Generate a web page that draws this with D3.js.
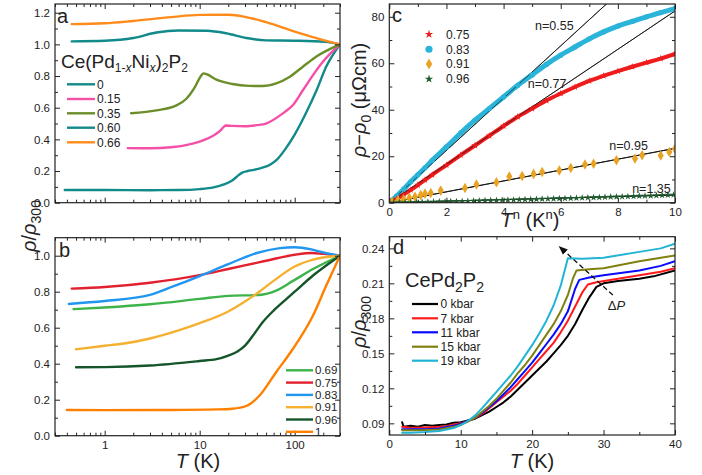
<!DOCTYPE html>
<meta charset="utf-8">
<style>
  body { margin: 0; background: #fff; }
  text { font-family: "Liberation Sans", Arial, sans-serif; fill: #222; }
</style>
<svg width="702" height="475"></svg>
<script src="https://d3js.org/d3.v7.min.js"></script>
<script>
// ---- panel a : Ce(Pd1-xNix)2P2, rho/rho300 vs T (log) ----
var aLabels = ["0", "0.15", "0.35", "0.60", "0.66"]
var aColors = ["#138a8a", "#f54fa8", "#6b8e2a", "#138a8a", "#ff8c1a"]
var a0  = [[0.38,0.08],[1,0.08],[3,0.079],[6,0.08],[10,0.086],[14,0.097],[18,0.115],[22,0.14],[25,0.168],[28,0.19],[32,0.2],[37,0.207],[45,0.22],[55,0.24],[65,0.272],[80,0.34],[100,0.43],[130,0.56],[170,0.71],[215,0.86],[300,1.0]]
var a15 = [[1.75,0.345],[3,0.344],[5,0.35],[8,0.37],[11,0.395],[14,0.425],[16.5,0.455],[18,0.48],[18.8,0.488],[22,0.485],[30,0.483],[40,0.49],[50,0.5],[75,0.564],[96,0.617],[122,0.71],[156,0.806],[198,0.89],[300,1.0]]
var a35 = [[1.9,0.565],[3.5,0.583],[5.7,0.615],[7.2,0.655],[8.9,0.73],[10.3,0.8],[11,0.817],[12,0.81],[15,0.777],[22,0.75],[33,0.738],[46,0.737],[64,0.754],[89,0.796],[122,0.859],[168,0.922],[300,1.0]]
var a60 = [[0.45,1.019],[1,1.023],[2,1.04],[3.5,1.075],[6,1.088],[12,1.086],[19,1.07],[31,1.04],[50,1.025],[100,1.023],[210,1.016],[300,1.0]]
var a66 = [[0.45,1.128],[1,1.133],[2,1.148],[5,1.172],[10,1.186],[20,1.187],[35,1.165],[50,1.14],[100,1.08],[200,1.027],[300,1.0]]
var aSeries = [a0, a15, a35, a60, a66]

// ---- panel b ----
var bLabels = ["0.69", "0.75", "0.83", "0.91", "0.96", "1"]
var bColors = ["#3cb44a", "#e2202e", "#2196f0", "#f5b030", "#14552a", "#ff8000"]
var b69 = [[0.47,0.703],[1,0.712],[3,0.73],[10,0.76],[20,0.777],[42,0.782],[64,0.806],[96,0.86],[156,0.926],[300,1.0]]
var b75 = [[0.45,0.817],[1,0.826],[3,0.85],[10,0.892],[20,0.926],[50,0.972],[100,1.005],[150,1.015],[200,1.01],[300,1.0]]
var b83 = [[0.42,0.732],[1,0.748],[3,0.782],[5,0.825],[10,0.887],[20,0.953],[40,1.015],[70,1.042],[100,1.047],[150,1.035],[200,1.018],[300,1.0]]
var b91 = [[0.5,0.48],[1,0.5],[1.6,0.512],[3,0.54],[6,0.585],[10,0.625],[20,0.69],[30,0.745],[40,0.79],[60,0.86],[100,0.94],[160,0.98],[300,1.0]]
var b96 = [[0.5,0.38],[1,0.381],[3,0.39],[10,0.415],[15,0.425],[20,0.445],[25,0.468],[30,0.5],[38,0.57],[46,0.63],[60,0.695],[80,0.755],[100,0.8],[156,0.89],[300,1.0]]
var b1  = [[0.4,0.143],[1,0.142],[5,0.143],[15,0.146],[22,0.15],[31,0.165],[43,0.225],[64,0.354],[96,0.483],[156,0.668],[215,0.834],[300,1.0]]
var bSeries = [b69, b75, b83, b91, b96, b1]

// ---- panel c : rho - rho0 vs T^n ----
var cLabels = ["0.75", "0.83", "0.91", "0.96"]
var cColors = ["#ee1c1c", "#2ab4da", "#e8a323", "#1e5e2c"]
var c75 = [[0.1,0.6],[0.25,1.6],[0.5,3.5],[0.75,5.5],[1,7.6],[1.25,9.8],[1.5,12],[2,16.2],[2.5,20.5],[3,24.6],[3.5,28.8],[4,33],[4.5,37],[5,40.5],[5.5,44],[6,47],[6.5,49.8],[7,52.4],[7.5,54.6],[8,56.6],[8.5,58.5],[9,60.3],[9.5,62],[10,64]]
var c83 = [[0.05,0.5],[0.25,2.8],[0.5,5.8],[0.75,9],[1,12],[1.25,15],[1.5,18.2],[2,24],[2.5,30],[3,35.5],[3.5,40.5],[4,45.5],[4.5,50.5],[5,55],[5.5,59.5],[6,63.5],[6.5,67],[7,70.5],[7.5,73.5],[8,76],[8.5,78],[9,80],[9.5,81.8],[10,83.5]]
var c91 = [[0.1,0.4],[0.3,0.9],[0.5,1.4],[0.7,2],[0.9,2.6],[1.1,3.3],[1.25,3.9],[1.45,4.2],[1.8,5.2],[2.65,6.3],[3.05,7.8],[3.75,8.8],[4.2,11.3],[4.65,11.5],[5.05,12.4],[5.35,13.2],[5.95,13.9],[6.35,14.9],[6.85,16.4],[7.15,16.8],[7.95,18.3],[8.6,19],[8.85,20.4],[9.5,20.3],[9.8,21.8],[10,23.2]]
var c96 = [[0.15,0.05],[0.35,0.1],[0.55,0.12],[0.75,0.15],[0.95,0.2],[1.15,0.25],[1.35,0.3],[1.55,0.35],[1.75,0.4],[1.95,0.45],[2.15,0.5],[2.35,0.55],[2.55,0.6],[2.75,0.7],[2.95,0.75],[3.15,0.8],[3.35,0.95],[3.55,1.0],[3.75,1.0],[3.95,1.1],[4.15,1.15],[4.35,1.2],[4.55,1.3],[4.75,1.4],[4.95,1.45],[5.15,1.5],[5.35,1.6],[5.55,1.65],[5.75,1.7],[5.95,1.8],[6.15,1.85],[6.35,1.9],[6.55,2.0],[6.75,2.1],[6.95,2.2],[7.15,2.25],[7.35,2.3],[7.55,2.4],[7.75,2.5],[7.95,2.55],[8.15,2.6],[8.35,2.7],[8.55,2.8],[8.75,2.9],[8.95,2.95],[9.15,3.0],[9.35,3.1],[9.55,3.2],[9.75,3.3],[9.95,3.4]]
var fitN = ["0.55", "0.77", "0.95", "1.35"]
var fitSlope = [11.25, 8.25, 2.34, 0.33]
var fitLabelPos = [[5.1,74.3],[4.85,49.3],[7.7,22.7],[8.5,4.2]]

// ---- panel d : CePd2P2 under pressure ----
var dLabels = ["0 kbar", "7 kbar", "11 kbar", "15 kbar", "19 kbar"]
var dColors = ["#000000", "#ff1a1a", "#0a0aff", "#808010", "#22b4d4"]
var d0  = [[1.8,0.091],[2,0.087],[3,0.088],[4,0.087],[5,0.0885],[6,0.088],[7,0.0885],[8,0.089],[9,0.0905],[10,0.091],[11,0.0925],[12,0.094],[13,0.097],[14,0.1],[15,0.104],[16,0.108],[17,0.113],[18,0.119],[19,0.125],[20,0.131],[21,0.137],[22,0.143],[23,0.15],[24,0.157],[25,0.165],[26,0.175],[27,0.187],[28,0.198],[29,0.207],[30,0.21],[32,0.212],[35,0.214],[37,0.216],[40,0.221]]
var d7  = [[1.8,0.087],[3,0.0862],[5,0.0865],[7,0.087],[8,0.0875],[9,0.089],[10,0.09],[11,0.092],[12,0.0945],[13,0.098],[14,0.103],[15,0.108],[16,0.113],[17,0.118],[18,0.124],[19,0.131],[20,0.138],[21,0.145],[22,0.152],[23,0.159],[24,0.168],[25,0.178],[26,0.19],[27,0.202],[27.8,0.209],[29,0.211],[32,0.214],[35,0.217],[38,0.22],[40,0.223]]
var d11 = [[1.8,0.085],[3,0.085],[5,0.085],[7,0.0855],[9,0.088],[10,0.0895],[11,0.092],[12,0.0948],[13,0.099],[14,0.104],[15,0.109],[16,0.115],[17,0.121],[18,0.128],[19,0.135],[20,0.142],[21,0.15],[22,0.158],[23,0.166],[24,0.175],[25,0.186],[26,0.205],[26.6,0.213],[28,0.215],[30,0.217],[35,0.221],[38,0.225],[40,0.229]]
var d15 = [[1.8,0.084],[3,0.084],[5,0.0842],[7,0.0848],[9,0.087],[10,0.0888],[11,0.0915],[12,0.0948],[13,0.1],[14,0.105],[15,0.111],[16,0.118],[17,0.125],[18,0.133],[19,0.14],[20,0.148],[21,0.157],[22,0.166],[23,0.175],[24,0.186],[25,0.2],[25.7,0.214],[26.2,0.221],[28,0.222],[30,0.223],[35,0.229],[38,0.232],[40,0.234]]
var d19 = [[1.8,0.082],[3,0.082],[5,0.0825],[7,0.0835],[9,0.086],[10,0.0885],[11,0.092],[12,0.0966],[13,0.103],[14,0.11],[15,0.117],[16,0.124],[17,0.131],[18,0.139],[19,0.148],[20,0.157],[21,0.167],[22,0.178],[23,0.191],[24,0.208],[24.6,0.222],[25,0.2315],[27,0.231],[30,0.232],[35,0.237],[38,0.24],[40,0.244]]
var dSeries = [d0, d7, d11, d15, d19]
var arrowFrom = [31.3, 0.2], arrowTo = [23.9, 0.241]

var svg = d3.select("svg")

var xa = d3.scaleLog().domain([0.3, 300]).range([55, 340])
var ya = d3.scaleLinear().domain([0, 1.255]).range([202.7, 4])
var xb = d3.scaleLog().domain([0.3, 300]).range([55, 340])
var yb = d3.scaleLinear().domain([0, 1.1]).range([435.7, 237.7])
var xc = d3.scaleLinear().domain([0, 10]).range([389.3, 675])
var yc = d3.scaleLinear().domain([0, 85.5]).range([202.7, 4])
var xd = d3.scaleLinear().domain([0, 40]).range([389.3, 675])
var yd = d3.scaleLinear().domain([0.08, 0.25]).range([435, 236.7])

var logMajor = [1, 10, 100]
var logMinor = [0.3,0.4,0.5,0.6,0.7,0.8,0.9,2,3,4,5,6,7,8,9,20,30,40,50,60,70,80,90,200,300]

// frame with inward ticks on all four sides
function frame(x, y, o) {
  var g = svg.append("g")
  var X = x.range(), Y = y.range()
  function side(axisFn, tr, vals, size, fmt) {
    g.append("g").attr("transform", tr)
      .call(axisFn.tickValues(vals).tickSize(-size).tickPadding(o.pad || 5).tickFormat(fmt))
      .call(function (s) { s.select(".domain").remove() })
      .selectAll("line").attr("stroke", "#222")
  }
  var none = function () { return "" }
  side(d3.axisBottom(x), "translate(0," + Y[0] + ")", o.xMajor, 5, o.xFmt || none)
  side(d3.axisBottom(x), "translate(0," + Y[0] + ")", o.xMinor, 3, none)
  side(d3.axisTop(x), "translate(0," + Y[1] + ")", o.xMajor, 5, none)
  side(d3.axisTop(x), "translate(0," + Y[1] + ")", o.xMinor, 3, none)
  side(d3.axisLeft(y), "translate(" + X[0] + ",0)", o.yMajor, 5, o.yFmt)
  side(d3.axisLeft(y), "translate(" + X[0] + ",0)", o.yMinor, 3, none)
  side(d3.axisRight(y), "translate(" + X[1] + ",0)", o.yMajor, 5, none)
  side(d3.axisRight(y), "translate(" + X[1] + ",0)", o.yMinor, 3, none)
  g.selectAll("text").attr("font-size", 11.5).attr("fill", "#222")
  g.append("rect").attr("x", X[0]).attr("y", Y[1]).attr("width", X[1] - X[0]).attr("height", Y[0] - Y[1])
    .attr("fill", "none").attr("stroke", "#222").attr("stroke-width", 1.2)
  return g
}

function clip(id, x, y) {
  var X = x.range(), Y = y.range()
  svg.append("clipPath").attr("id", id).append("rect")
    .attr("x", X[0]).attr("y", Y[1]).attr("width", X[1] - X[0]).attr("height", Y[0] - Y[1])
}
clip("ca", xa, ya); clip("cb", xb, yb); clip("cc", xc, yc); clip("cd", xd, yd)

function curves(series, colors, x, y, cid, width, curve) {
  var line = d3.line().x(function (d) { return x(d[0]) }).y(function (d) { return y(d[1]) }).curve(curve)
  svg.append("g").attr("clip-path", "url(#" + cid + ")")
    .selectAll("path").data(series).enter().append("path")
    .attr("d", line).attr("fill", "none")
    .attr("stroke", function (d, i) { return colors[i] })
    .attr("stroke-width", width).attr("stroke-linejoin", "round").attr("stroke-linecap", "round")
}

function legendLines(labels, colors, x1, x2, tx, rows, fs, w) {
  var g = svg.append("g")
  labels.forEach(function (l, i) {
    g.append("line").attr("x1", x1).attr("x2", x2).attr("y1", rows[i]).attr("y2", rows[i])
      .attr("stroke", colors[i]).attr("stroke-width", w)
    g.append("text").attr("x", tx).attr("y", rows[i]).attr("dy", "0.35em").attr("font-size", fs).text(l)
  })
}

function rhoLabel(x, y) {
  var t = svg.append("text").attr("transform", "translate(" + x + "," + y + ") rotate(-90)")
    .attr("text-anchor", "middle").attr("font-size", 20)
  t.append("tspan").attr("font-style", "italic").text("ρ")
  t.append("tspan").text("/")
  t.append("tspan").attr("font-style", "italic").text("ρ")
  t.append("tspan").attr("font-size", 14).attr("dy", 5).text("300")
}

function tLabel(x, y) {
  var t = svg.append("text").attr("x", x).attr("y", y).attr("text-anchor", "middle").attr("font-size", 20)
  t.append("tspan").attr("font-style", "italic").text("T")
  t.append("tspan").text(" (K)")
}

// panel a
curves(aSeries, aColors, xa, ya, "ca", 2.4, d3.curveMonotoneX)
frame(xa, ya, { xMajor: logMajor, xMinor: logMinor, yMajor: d3.range(0, 1.21, 0.2), yMinor: d3.range(0.1, 1.2, 0.2), yFmt: d3.format(".1f") })
svg.append("text").attr("x", 57).attr("y", 23).attr("font-size", 20).text("a")
var ttl = svg.append("text").attr("x", 61).attr("y", 68).attr("font-size", 19)
ttl.append("tspan").text("Ce(Pd")
ttl.append("tspan").attr("font-size", 12).attr("dy", 4).text("1-")
ttl.append("tspan").attr("font-size", 12).attr("font-style", "italic").text("x")
ttl.append("tspan").attr("dy", -4).text("Ni")
ttl.append("tspan").attr("font-size", 12).attr("font-style", "italic").attr("dy", 4).text("x")
ttl.append("tspan").attr("dy", -4).text(")")
ttl.append("tspan").attr("font-size", 12).attr("dy", 4).text("2")
ttl.append("tspan").attr("dy", -4).text("P")
ttl.append("tspan").attr("font-size", 12).attr("dy", 4).text("2")
legendLines(aLabels, aColors, 67, 95, 97, [84.3, 99, 113.3, 127.7, 142.3], 12, 2.4)

// panel b
curves(bSeries, bColors, xb, yb, "cb", 2.4, d3.curveMonotoneX)
frame(xb, yb, { xMajor: logMajor, xMinor: logMinor, yMajor: d3.range(0, 1.01, 0.2), yMinor: d3.range(0.1, 1.1, 0.2), yFmt: d3.format(".1f"), xFmt: d3.format("d"), pad: 5 })
svg.append("text").attr("x", 59).attr("y", 257).attr("font-size", 20).text("b")
legendLines(bLabels, bColors, 286, 313, 315, [370.3, 382.6, 394.9, 407.2, 419.5, 431.8], 11.5, 2.4)
rhoLabel(36, 226)
tLabel(198, 468)

// panel c
var cg = svg.append("g").attr("clip-path", "url(#cc)")
cg.selectAll("line.fit").data(fitSlope).enter().append("line")
  .attr("x1", xc(0)).attr("y1", yc(0)).attr("x2", xc(10)).attr("y2", function (s) { return yc(10 * s) })
  .attr("stroke", "#111").attr("stroke-width", 0.9)
var cl = d3.line().x(function (d) { return xc(d[0]) }).y(function (d) { return yc(d[1]) }).curve(d3.curveMonotoneX)
cg.append("path").attr("d", cl(c83)).attr("fill", "none").attr("stroke", cColors[1]).attr("stroke-width", 5).attr("stroke-linecap", "round")
cg.append("path").attr("d", cl(c75)).attr("fill", "none").attr("stroke", cColors[0]).attr("stroke-width", 4).attr("stroke-linecap", "round")
// re-draw the fit lines thin over the bands
cg.selectAll("line.fit2").data(fitSlope.slice(0, 2)).enter().append("line")
  .attr("x1", xc(0)).attr("y1", yc(0)).attr("x2", xc(10)).attr("y2", function (s) { return yc(10 * s) })
  .attr("stroke", "#111").attr("stroke-width", 0.8).attr("stroke-opacity", 0.8)
function sym(data, type, size, color) {
  cg.selectAll(null).data(data).enter().append("path")
    .attr("d", d3.symbol().type(type).size(size))
    .attr("transform", function (d) { return "translate(" + xc(d[0]) + "," + yc(d[1]) + ")" })
    .attr("fill", color)
}
sym(c83, d3.symbolCircle, 22, cColors[1])
sym(c75, d3.symbolStar, 16, cColors[0])
cg.selectAll("line.fit3").data(fitSlope.slice(2)).enter().append("line")
  .attr("x1", xc(0)).attr("y1", yc(0)).attr("x2", xc(10)).attr("y2", function (s) { return yc(10 * s) })
  .attr("stroke", "#111").attr("stroke-width", 0.9)
sym(c91, d3.symbolDiamond, 32, cColors[2])
sym(c96, d3.symbolStar, 16, cColors[3])
frame(xc, yc, { xMajor: d3.range(0, 10.1, 2), xMinor: d3.range(1, 10, 2), yMajor: d3.range(0, 81, 20), yMinor: d3.range(10, 81, 20), yFmt: d3.format("d"), xFmt: d3.format("d") })
svg.append("text").attr("x", 392).attr("y", 22).attr("font-size", 20).text("c")
fitN.forEach(function (n, i) {
  svg.append("text").attr("x", xc(fitLabelPos[i][0])).attr("y", yc(fitLabelPos[i][1])).attr("font-size", 12.5).text("n=" + n)
})
var cleg = svg.append("g")
var cSyms = [d3.symbolStar, d3.symbolCircle, d3.symbolDiamond, d3.symbolStar]
var cSz = [22, 40, 35, 22]
cLabels.forEach(function (l, i) {
  var yy = [34.3, 49.3, 64, 79][i]
  cleg.append("path").attr("d", d3.symbol().type(cSyms[i]).size(cSz[i])).attr("transform", "translate(429," + yy + ")").attr("fill", cColors[i])
  cleg.append("text").attr("x", 446).attr("y", yy).attr("dy", "0.35em").attr("font-size", 12).text(l)
})
var cyl = svg.append("text").attr("transform", "translate(366,100) rotate(-90)").attr("text-anchor", "middle").attr("font-size", 20)
cyl.append("tspan").attr("font-style", "italic").text("ρ")
cyl.append("tspan").text("−")
cyl.append("tspan").attr("font-style", "italic").text("ρ")
cyl.append("tspan").attr("font-size", 14).attr("dy", 5).text("0")
cyl.append("tspan").attr("dy", -5).text(" (μΩcm)")
var cxl = svg.append("text").attr("x", 530).attr("y", 227).attr("text-anchor", "middle").attr("font-size", 20)
cxl.append("tspan").attr("font-style", "italic").text("T")
cxl.append("tspan").attr("font-size", 13).attr("dy", -8).text("n")
cxl.append("tspan").attr("dy", 8).text(" (K")
cxl.append("tspan").attr("font-size", 13).attr("dy", -8).text("n")
cxl.append("tspan").attr("dy", 8).text(")")

// panel d
curves(dSeries, dColors, xd, yd, "cd", 2, d3.curveLinear)
frame(xd, yd, { xMajor: d3.range(0, 41, 10), xMinor: d3.range(5, 40, 10), yMajor: [0.09, 0.12, 0.15, 0.18, 0.21, 0.24], yMinor: [0.105, 0.135, 0.165, 0.195, 0.225], yFmt: d3.format(".2f"), xFmt: d3.format("d") })
svg.append("text").attr("x", 393).attr("y", 254).attr("font-size", 20).text("d")
var dt = svg.append("text").attr("x", 405).attr("y", 287).attr("font-size", 20)
dt.append("tspan").text("CePd")
dt.append("tspan").attr("font-size", 14).attr("dy", 5).text("2")
dt.append("tspan").attr("dy", -5).text("P")
dt.append("tspan").attr("font-size", 14).attr("dy", 5).text("2")
legendLines(dLabels, dColors, 412, 438, 440.5, [304, 318.3, 332.3, 346.7, 360.7], 12, 2.2)
svg.append("defs").append("marker").attr("id", "ah").attr("viewBox", "0 0 10 10").attr("refX", 8).attr("refY", 5)
  .attr("markerWidth", 7).attr("markerHeight", 7).attr("orient", "auto")
  .append("path").attr("d", "M0,1 L10,5 L0,9 Z").attr("fill", "#111")
svg.append("line").attr("x1", xd(arrowFrom[0])).attr("y1", yd(arrowFrom[1])).attr("x2", xd(arrowTo[0])).attr("y2", yd(arrowTo[1]))
  .attr("stroke", "#111").attr("stroke-width", 1.3).attr("stroke-dasharray", "5,3").attr("marker-end", "url(#ah)")
var dp = svg.append("text").attr("x", xd(30.6)).attr("y", yd(0.187)).attr("font-size", 13)
dp.append("tspan").text("Δ")
dp.append("tspan").attr("font-style", "italic").text("P")
rhoLabel(366, 322)
tLabel(532, 468)
</script>
